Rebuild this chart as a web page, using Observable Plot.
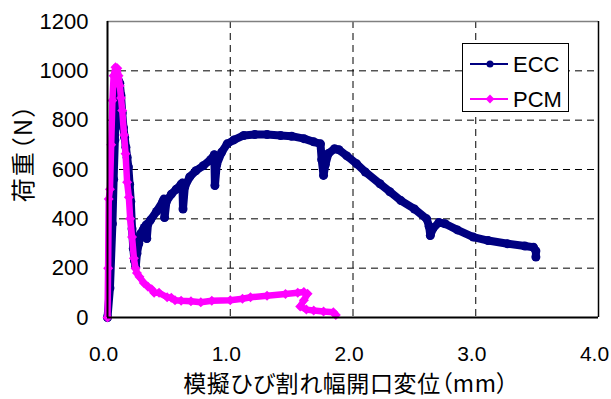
<!DOCTYPE html>
<html>
<head>
<meta charset="utf-8">
<script src="https://cdn.jsdelivr.net/npm/d3@7"></script>
<script src="https://cdn.jsdelivr.net/npm/@observablehq/plot@0.6"></script>
<style>
  html, body { margin: 0; padding: 0; background: #fff; }
  #wrap { position: relative; width: 611px; height: 399px; overflow: hidden; }
  #legend { position: absolute; left: 462px; top: 43px; width: 107px; height: 69px;
    border: 1px solid #000; background: #fff; box-sizing: border-box; }
  #legend svg { display: block; }
  .cjk { font-family: "Noto Sans CJK JP", sans-serif; font-feature-settings: "palt"; }
  .ytitle { letter-spacing: 2px; }
  .xtitle { letter-spacing: 0.6px; }
</style>
</head>
<body>
<div id="wrap"><div id="legend"></div></div>
<script>
// ECC series (crack opening displacement mm, load N)
const eccX = [0,0.02,0.04,0.05,0.06,0.07,0.08,0.09,0.10,0.11,0.12,0.13,0.14,0.15,0.16,0.17,0.18,0.19,0.20,0.21,0.22,0.23,0.24,0.255,0.27,0.29,0.30,0.315,0.32,0.33,0.35,0.40,0.45,0.46,0.465,0.48,0.52,0.56,0.60,0.61,0.615,0.63,0.67,0.72,0.78,0.84,0.87,0.875,0.89,0.93,0.975,1.03,1.11,1.20,1.30,1.41,1.50,1.60,1.68,1.735,1.745,1.76,1.775,1.80,1.85,1.885,1.95,2.03,2.10,2.22,2.30,2.39,2.50,2.60,2.62,2.63,2.65,2.70,2.75,2.85,2.98,3.10,3.26,3.40,3.47,3.49,3.49];
const eccY = [0,120,380,560,720,850,930,960,950,900,830,770,730,690,650,610,540,470,360,280,230,205,260,300,340,355,365,375,320,380,395,430,470,480,405,470,500,520,540,545,440,530,570,595,615,640,660,535,620,670,704,720,738,742,742,738,735,725,712,704,640,576,620,665,684,680,655,623,590,542,510,474,440,400,370,332,360,385,380,355,326,312,299,290,285,270,245];
// PCM series
const pcmX = [0,0.005,0.01,0.02,0.03,0.04,0.05,0.065,0.08,0.09,0.10,0.11,0.12,0.135,0.147,0.16,0.174,0.185,0.20,0.215,0.228,0.24,0.26,0.296,0.33,0.36,0.38,0.42,0.486,0.52,0.55,0.60,0.68,0.76,0.85,1.00,1.10,1.165,1.30,1.45,1.55,1.60,1.63,1.60,1.57,1.62,1.68,1.76,1.84,1.86];
const pcmY = [0,200,480,520,700,880,980,1015,1010,980,940,890,839,740,664,548,488,400,326,240,200,180,165,140,125,115,100,100,82,80,70,68,66,62,68,70,76,82,88,95,100,103,96,70,45,32,28,24,21,10];
// Axis ticks and labels
const xTicks = [0, 1, 2, 3, 4];
const yTicks = [0, 200, 400, 600, 800, 1000, 1200];
const xGrid = [1, 2, 3];
const yGrid = [200, 400, 600, 800, 1000];
const seriesNames = ["ECC", "PCM"];
const seriesColors = ["#000080", "#FF00FF"];
const xTitle = "模擬ひび割れ幅開口変位（mm）";
const yTitle = "荷重（N）";

const ecc = eccX.map((x, i) => ({x, y: eccY[i]}));
const pcm = pcmX.map((x, i) => ({x, y: pcmY[i]}));

const chart = Plot.plot({
  width: 611,
  height: 399,
  marginLeft: 107,
  marginRight: 13,
  marginTop: 21,
  marginBottom: 82,
  style: {fontFamily: "'Liberation Sans', Arial, sans-serif", fontSize: "22px", color: "#000", background: "#fff"},
  x: {domain: [0, 4], ticks: xTicks, tickFormat: d3.format(".1f"), tickSize: 0, tickPadding: 29, label: null},
  y: {domain: [0, 1200], ticks: yTicks, tickFormat: d3.format("d"), tickSize: 0, tickPadding: 19, label: null},
  marks: [
    Plot.ruleY(yGrid, {stroke: "#000", strokeWidth: 1, strokeDasharray: "7,5"}),
    Plot.ruleX(xGrid, {stroke: "#000", strokeWidth: 1, strokeDasharray: "7,5"}),
    Plot.ruleY([1200], {stroke: "#808080", strokeWidth: 1.5}),
    Plot.ruleX([4], {stroke: "#000", strokeWidth: 1.5}),
    Plot.line(ecc, {x: "x", y: "y", stroke: seriesColors[0], strokeWidth: 8, strokeLinejoin: "round", strokeLinecap: "round"}),
    Plot.dot(ecc, {x: "x", y: "y", fill: seriesColors[0], r: 4.5, stroke: null}),
    Plot.line(pcm, {x: "x", y: "y", stroke: seriesColors[1], strokeWidth: 6.5, strokeLinejoin: "round", strokeLinecap: "round"}),
    Plot.dot(pcm, {x: "x", y: "y", fill: seriesColors[1], symbol: "diamond2", r: 4.5, stroke: null}),
    Plot.ruleY([0], {stroke: "#000", strokeWidth: 2}),
    Plot.ruleX([0], {stroke: "#000", strokeWidth: 2}),
    Plot.text([yTitle], {frameAnchor: "left", textAnchor: "middle", lineAnchor: "middle", rotate: -90, dx: -83, dy: -17, fontSize: 24, className: "cjk ytitle"}),
    Plot.text([xTitle], {frameAnchor: "bottom", textAnchor: "middle", lineAnchor: "middle", dy: 67, dx: -7, fontSize: 23, className: "cjk xtitle"})
  ]
});
// shift x tick labels slightly left, as in the reference
d3.select(chart).selectAll("g[aria-label='x-axis tick label'] text, g[aria-label='x-axis tick label']").attr("font-size", 21);
d3.select(chart).select("g[aria-label='x-axis tick label']").attr("transform", function() {
  const t = this.getAttribute("transform") || "";
  return t + " translate(-4,0)";
});
document.getElementById("wrap").prepend(chart);

// Legend
const lg = d3.select("#legend").append("svg").attr("width", 105).attr("height", 67);
seriesNames.forEach((name, i) => {
  const cy = 20 + i * 35;
  const g = lg.append("g");
  g.append("line").attr("x1", 7).attr("x2", 45).attr("y1", cy).attr("y2", cy)
    .attr("stroke", seriesColors[i]).attr("stroke-width", 2);
  if (i === 0) {
    g.append("circle").attr("cx", 27).attr("cy", cy).attr("r", 3.5).attr("fill", seriesColors[i]);
  } else {
    g.append("path").attr("d", d3.symbol(d3.symbolDiamond2, 50)()).attr("transform", `translate(27,${cy})`).attr("fill", seriesColors[i]);
  }
  g.append("text").attr("x", 50).attr("y", cy).attr("dy", "0.36em")
    .attr("font-family", "'Liberation Sans', Arial, sans-serif").attr("font-size", 22).text(name);
});
</script>
</body>
</html>
